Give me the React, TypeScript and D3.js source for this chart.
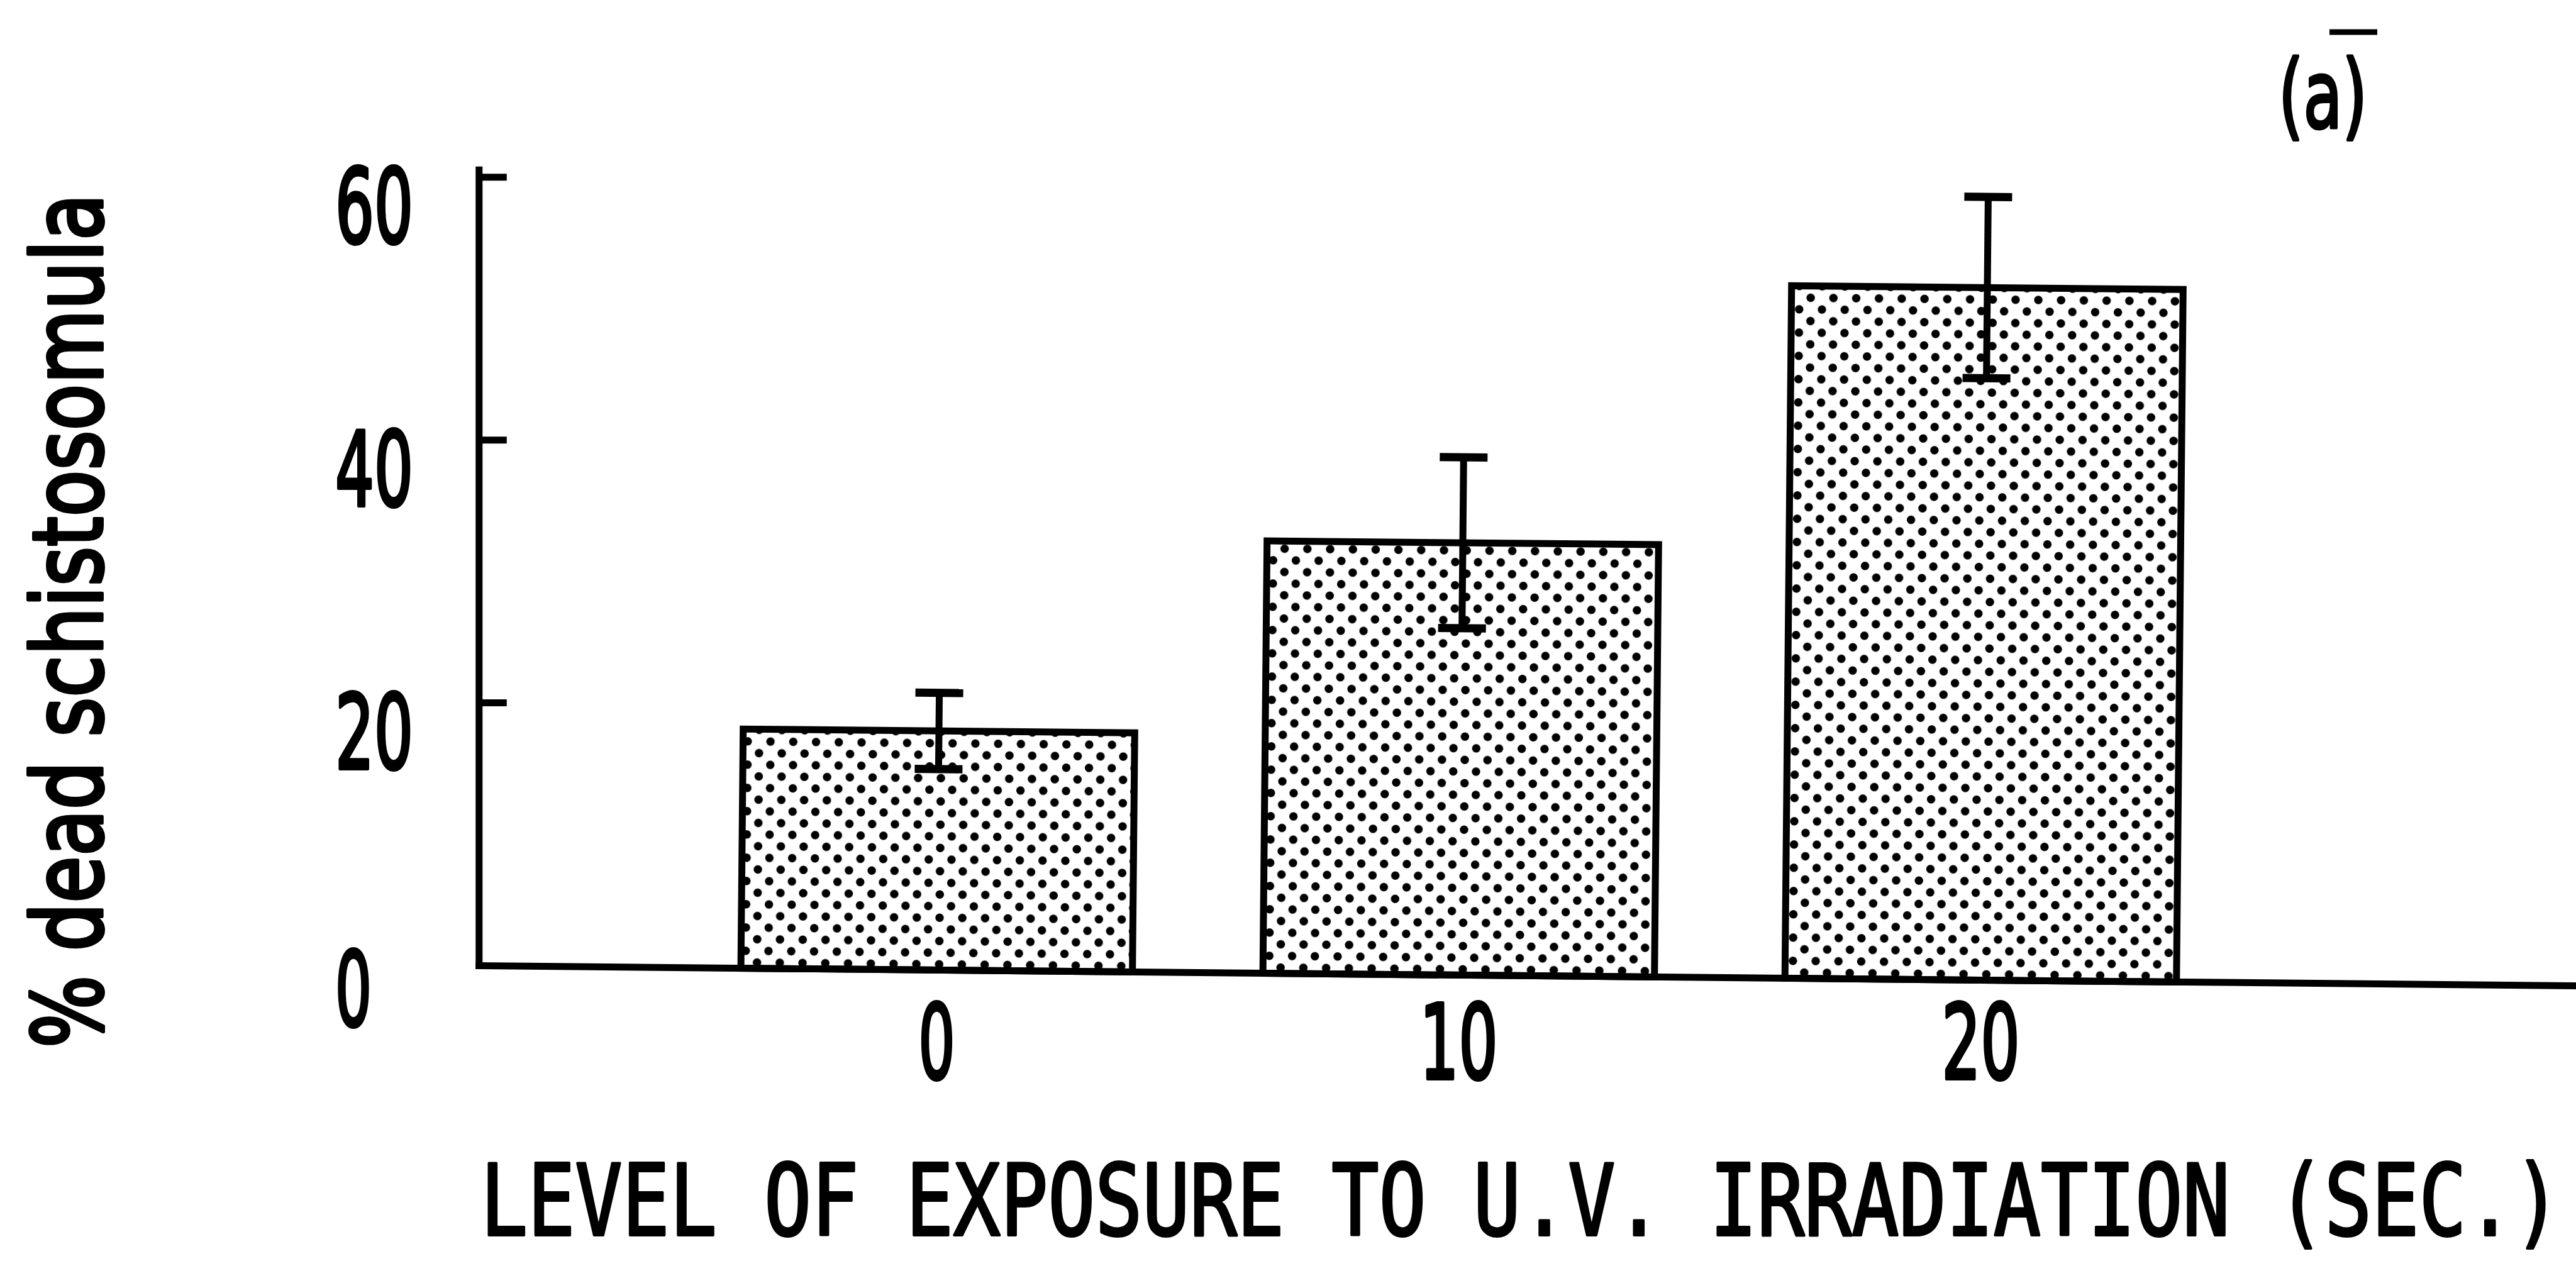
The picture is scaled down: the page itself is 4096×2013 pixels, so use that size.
import React from "react";
import * as d3 from "d3";

// ---- data ----
const categories = ["0", "10", "20"]; // seconds of U.V. exposure
const meanDead = [18.2, 32.9, 52.7]; // % dead schistosomula
const errDead = [2.9, 6.5, 6.9]; // error bar half-length
const yTickValues = [0, 20, 40, 60];
const yTickLabels = ["0", "20", "40", "60"];
const xTitle = "LEVEL OF EXPOSURE TO U.V. IRRADIATION (SEC.)";
const yTitle = "% dead schistosomula";
const panelLabel = "(a)";

const W = 4096;
const H = 2013;
const S = 0.854; // reference -> window scale
const FONT = "'DejaVu Sans', 'Liberation Sans', sans-serif";
const MONO = "'DejaVu Sans Mono', 'Liberation Mono', monospace";

export default function App() {
  const x = d3
    .scaleBand<string>()
    .domain(categories)
    .range([1258 * S, 4174 * S])
    .paddingInner(0.25)
    .paddingOuter(0.125);
  const y = d3.scaleLinear().domain([0, 60]).range([1798 * S, 330 * S]);

  const axisX = 892 * S;
  const y0 = y(0);
  const tilt = 0.55; // the scanned plot lines are slightly rotated
  const lw = 11;
  const capW = 76;
  const bw = x.bandwidth();

  const textStroke = { stroke: "#000", strokeWidth: 4, strokeLinejoin: "round" as const };

  return (
    <svg
      width={W}
      height={H}
      viewBox={`0 0 ${W} ${H}`}
      style={{ position: "absolute", left: 0, top: 0, background: "#fff" }}
    >
      <defs>
        <pattern id="dots" patternUnits="userSpaceOnUse" width={36.2} height={37}>
          <circle cx={9} cy={9.25} r={6.7} fill="#000" />
          <circle cx={27.1} cy={27.75} r={6.7} fill="#000" />
        </pattern>
      </defs>
      <rect x={0} y={0} width={W} height={H} fill="#fff" />

      {/* y axis */}
      <line x1={axisX} x2={axisX} y1={y0 + lw / 2} y2={310 * S} stroke="#000" strokeWidth={lw} />
      {yTickValues
        .filter((v) => v > 0)
        .map((v) => (
          <line key={"t" + v} x1={axisX} x2={axisX + 44} y1={y(v)} y2={y(v)} stroke="#000" strokeWidth={lw} />
        ))}
      {yTickValues.map((v, i) => (
        <text
          key={"yl" + v}
          x={533}
          y={y(v) + (v === 0 ? 96 : 104)}
          fontFamily={FONT}
          fontSize={164}
          textAnchor="start"
          textLength={yTickLabels[i].length * 66 - 8}
          lengthAdjust="spacingAndGlyphs"
          fill="#000"
          {...textStroke}
          strokeWidth={6}
        >
          {yTickLabels[i]}
        </text>
      ))}

      {/* bars, error bars and x axis (slightly rotated as in the scan) */}
      <g transform={`rotate(${tilt} ${axisX} ${y0})`}>
        <line x1={axisX - lw / 2} x2={W + 200} y1={y0} y2={y0} stroke="#000" strokeWidth={lw} />
        {categories.map((c, i) => (
          <rect
            key={"b" + c}
            x={x(c)}
            y={y(meanDead[i])}
            width={bw}
            height={y0 - y(meanDead[i])}
            fill="url(#dots)"
            stroke="#000"
            strokeWidth={lw}
          />
        ))}
        {categories.map((c, i) => {
          const cx = (x(c) as number) + bw / 2;
          const top = y(meanDead[i] + errDead[i]);
          const bot = y(meanDead[i] - errDead[i]);
          return (
            <g key={"e" + c} stroke="#000" strokeWidth={lw}>
              <line x1={cx} x2={cx} y1={top} y2={bot} />
              <line x1={cx - capW / 2} x2={cx + capW / 2} y1={top} y2={top} strokeWidth={13} />
              <line x1={cx - capW / 2} x2={cx + capW / 2} y1={bot} y2={bot} strokeWidth={13} />
            </g>
          );
        })}
      </g>

      {/* x tick labels */}
      {categories.map((c) => (
        <text
          key={"xl" + c}
          x={(x(c) as number) + bw / 2}
          y={1715}
          fontFamily={FONT}
          fontSize={164}
          textAnchor="middle"
          textLength={c.length * 66 - 8}
          lengthAdjust="spacingAndGlyphs"
          fill="#000"
          {...textStroke}
          strokeWidth={6}
        >
          {c}
        </text>
      ))}

      {/* x axis title */}
      <text
        x={764}
        y={1964}
        fontFamily={MONO}
        fontSize={156}
        textAnchor="start"
        textLength={4072 - 764}
        lengthAdjust="spacingAndGlyphs"
        fill="#000"
        {...textStroke}
      >
        {xTitle}
      </text>

      {/* y axis title */}
      <text
        transform={`translate(162,1666) rotate(-90)`}
        x={0}
        y={0}
        fontFamily={FONT}
        fontSize={154}
        textAnchor="start"
        textLength={1358}
        lengthAdjust="spacingAndGlyphs"
        fill="#000"
        {...textStroke}
        strokeWidth={6}
      >
        {yTitle}
      </text>

      {/* panel label */}
      <text
        x={3623}
        y={203}
        fontFamily={FONT}
        fontSize={150}
        textAnchor="start"
        textLength={141}
        lengthAdjust="spacingAndGlyphs"
        fill="#000"
        {...textStroke}
        strokeWidth={5}
      >
        {panelLabel}
      </text>
      <line x1={3704} x2={3780} y1={51} y2={51} stroke="#000" strokeWidth={9} />
    </svg>
  );
}
